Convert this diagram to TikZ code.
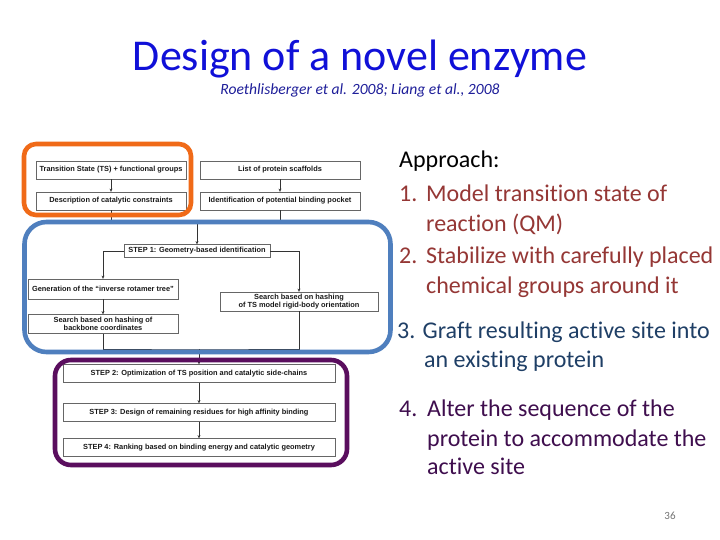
\documentclass[tikz,border=0pt]{standalone}
\usepackage{fontspec}
\setmainfont{Carlito}[Ligatures=NoCommon]
\newfontfamily\boxfont{Liberation Sans}
\usetikzlibrary{arrows.meta, positioning}

\definecolor{titleblue}{HTML}{1010D8}
\definecolor{citeblue}{HTML}{1F1F9A}
\definecolor{frameorange}{HTML}{F06A18}
\definecolor{frameblue}{HTML}{4F7FBE}
\definecolor{framepurple}{HTML}{5A0E5E}
\definecolor{itemred}{HTML}{953735}
\definecolor{itemblue}{HTML}{1F3F66}
\definecolor{itempurple}{HTML}{3F0E4E}

\begin{document}
\begin{tikzpicture}[
    x=1pt, y=-1pt, >=Stealth,
    flowbox/.style={
      draw=black!60, line width=0.4pt, fill=white,
      minimum height=18pt, inner sep=1pt, align=center,
      text=black!90, font=\boxfont\bfseries\fontsize{7.4}{8.2}\selectfont},
    flow/.style={->, draw=black!80, line width=0.5pt,
      arrows={-{Stealth[length=3.2pt, width=3pt]}}},
    joint/.style={draw=black!80, line width=0.5pt},
    frame/.style={line width=4.6pt, rounded corners=#1},
    line/.style={anchor=base west, inner sep=0pt,
      font=\fontsize{24}{29}\selectfont},
]
\useasboundingbox[fill=white] (0,0) rectangle (720,540);

% ---- heading ----
\node[text=titleblue, font=\fontsize{44}{52}\selectfont, anchor=base, inner sep=0pt]
  (title) at (360,71) {Design of a novel enzyme};
\node[text=citeblue, font=\itshape\fontsize{15.6}{18}\selectfont, anchor=base, inner sep=0pt]
  (cite) at (360,95) {Roethlisberger et al. 2008; Liang et al., 2008};

% ---- flowchart boxes ----
\node[flowbox, minimum width=150pt] (ts)     at (111,170) {Transition State (TS) + functional groups};
\node[flowbox, minimum width=150pt] (desc)   at (111,201) {Description of catalytic constraints};
\node[flowbox, minimum width=160pt] (scaf)   at (280,170) {List of protein scaffolds};
\node[flowbox, minimum width=160pt] (pocket) at (280,201) {Identification of potential binding pocket};
\node[flowbox, minimum width=146pt, minimum height=13pt] (step1) at (197,251) {STEP 1: Geometry-based identification};
\node[flowbox, minimum width=150pt, minimum height=20pt] (invtree) at (103,289) {Generation of the “inverse rotamer tree”};
\node[flowbox, minimum width=150pt, minimum height=19pt] (bbsearch) at (103,324) {Search based on hashing of\\backbone coordinates};
\node[flowbox, minimum width=158pt, minimum height=19pt] (tssearch) at (299,301.5) {Search based on hashing\\of TS model rigid-body orientation};
\node[flowbox, minimum width=272pt] (step2) at (199,373.5) {STEP 2: Optimization of TS position and catalytic side-chains};
\node[flowbox, minimum width=272pt] (step3) at (199,412.5) {STEP 3: Design of remaining residues for high affinity binding};
\node[flowbox, minimum width=272pt] (step4) at (199,447.5) {STEP 4: Ranking based on binding energy and catalytic geometry};

\coordinate (merge1) at (197,222);
\coordinate (merge2) at (199,349);

% ---- flowchart connectors ----
\draw[flow] (ts) -- (desc);
\draw[flow] (scaf) -- (pocket);
\draw[joint] (desc.south) |- (merge1) -| (pocket.south);
\draw[flow] (merge1) -- (step1);
\draw[flow] (step1.west) -| (invtree.north);
\draw[flow] (step1.east) -| (tssearch.north);
\draw[flow] (invtree) -- (bbsearch);
\draw[joint] (bbsearch.south) |- (merge2) -| (tssearch.south);
\draw[flow] (merge2) -- (step2);
\draw[flow] (step2) -- (step3);
\draw[flow] (step3) -- (step4);

% ---- highlight frames ----
\draw[frame=12pt, frameorange] (24,144) rectangle (191,215);
\draw[frame=22pt, frameblue]   (24.5,222) rectangle (390.5,352);
\draw[frame=16pt, framepurple] (55,360) rectangle (347,465);

% ---- approach list ----
\node[line] (appr) at (399,168) {Approach:};
\node[line, text=itemred] (n1) at (399,202) {1.};
\node[line, text=itemred] (i1a) at (426,202) {Model transition state of};
\node[line, text=itemred] (i1b) at (426,232) {reaction (QM)};
\node[line, text=itemred] (n2) at (399,263) {2.};
\node[line, text=itemred] (i2a) at (426,263) {Stabilize with carefully placed};
\node[line, text=itemred] (i2b) at (426,293) {chemical groups around it};
\node[line, text=itemblue] (i3a) at (397,338) {3. Graft resulting active site into};
\node[line, text=itemblue] (i3b) at (424,367) {an existing protein};
\node[line, text=itempurple] (n4) at (399,416.5) {4.};
\node[line, text=itempurple] (i4a) at (427,416.5) {Alter the sequence of the};
\node[line, text=itempurple] (i4b) at (427,446) {protein to accommodate the};
\node[line, text=itempurple] (i4c) at (427,474) {active site};

\node[anchor=base, inner sep=0pt, text=black!55, font=\fontsize{11}{13}\selectfont]
  (page) at (670,519) {36};
\end{tikzpicture}
\end{document}
